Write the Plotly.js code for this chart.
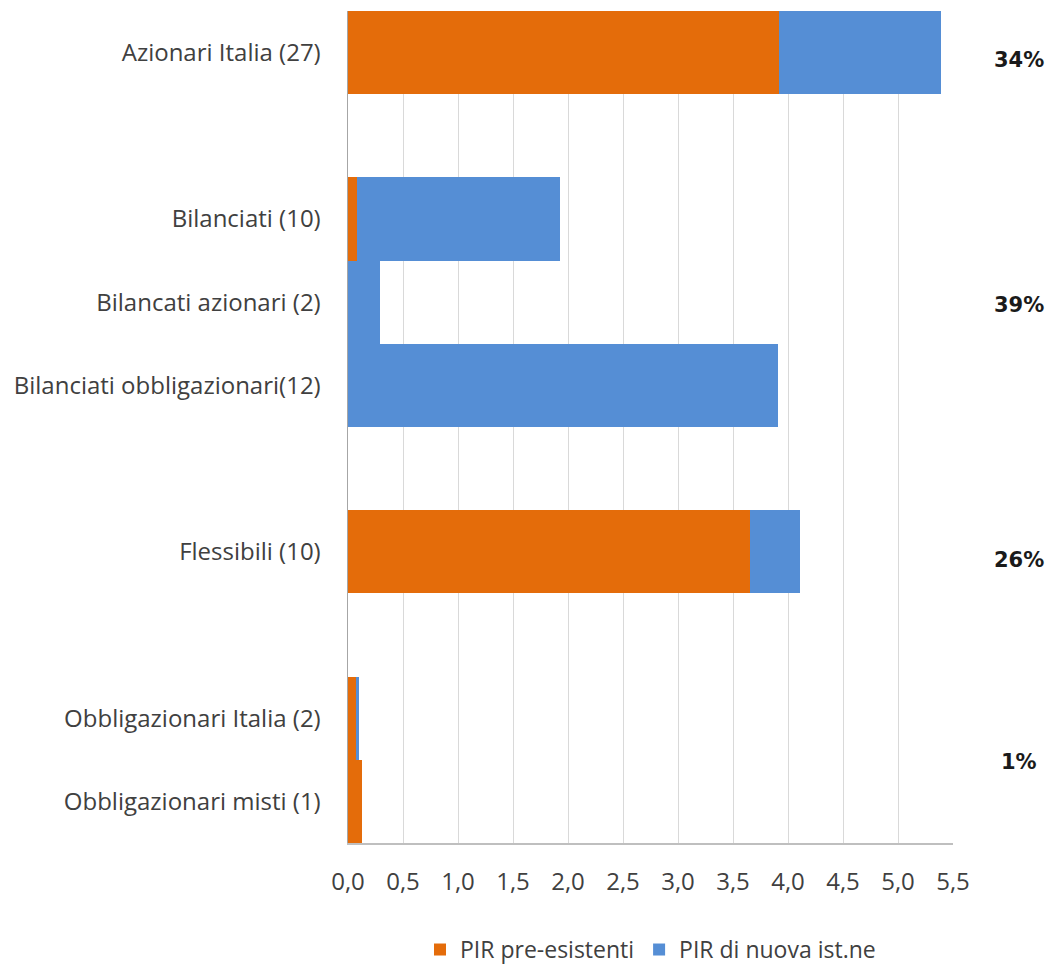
<!DOCTYPE html>
<html>
<head>
<meta charset="utf-8">
<script src="https://cdn.plot.ly/plotly-3.0.1.min.js"></script>
<style>html,body{margin:0;padding:0;background:#fff;}#chart{width:1052px;height:965px;}</style>
</head>
<body>
<div id="chart"></div>
<script>
// Categories (blank strings are spacer rows between groups)
const categories = [
  "Azionari Italia (27)",
  " ",
  "Bilanciati (10)",
  "Bilancati azionari (2)",
  "Bilanciati obbligazionari(12)",
  "  ",
  "Flessibili (10)",
  "   ",
  "Obbligazionari Italia (2)",
  "Obbligazionari misti (1)"
];
const preEsistenti = [3.92, null, 0.08, 0, 0, null, 3.65, null, 0.075, 0.13];
const nuovaIst     = [1.47, null, 1.845, 0.29, 3.91, null, 0.46, null, 0.025, 0];
const seriesNames = ["PIR pre-esistenti", "PIR di nuova ist.ne"];
const groupShares = ["34%", "39%", "26%", "1%"];
const groupAnchor = ["Azionari Italia (27)", "Bilancati azionari (2)", "Flessibili (10)", "Obbligazionari Italia (2)"];
const xTickVals = [0, 0.5, 1, 1.5, 2, 2.5, 3, 3.5, 4, 4.5, 5, 5.5];

const traces = [
  {type: "bar", orientation: "h", name: seriesNames[0], y: categories, x: preEsistenti,
   marker: {color: "#E46C0A"}, hoverinfo: "x+y"},
  {type: "bar", orientation: "h", name: seriesNames[1], y: categories, x: nuovaIst,
   marker: {color: "#558ED5"}, hoverinfo: "x+y"}
];

const annYOffsets = [7, 3, 8, 44];
const annotations = groupShares.map((t, i) => ({
  xref: "paper", yref: "y", x: 1.109, y: groupAnchor[i], text: t, showarrow: false,
  yshift: -annYOffsets[i],
  font: {family: "DejaVu Sans", size: 21, color: "#1a1a1a", weight: "bold"},
  xanchor: "center"
}));

const labelFont = "'Open Sans', 'Noto Sans', sans-serif";

const layout = {
  width: 1052, height: 965,
  margin: {l: 348, r: 99, t: 11, b: 122, autoexpand: false},
  paper_bgcolor: "#fff", plot_bgcolor: "#fff",
  barmode: "stack", bargap: 0,
  separators: ",.",
  showlegend: true,
  legend: {orientation: "h", x: 0.5, xanchor: "center", yref: "container", y: 0.016, yanchor: "middle",
           font: {family: labelFont, size: 23, color: "#404040"},
           traceorder: "normal"},
  font: {family: labelFont, size: 24, color: "#404040"},
  xaxis: {range: [0, 5.5], tickvals: xTickVals, tickformat: ".1f",
          showgrid: true, gridcolor: "#d9d9d9", gridwidth: 1,
          showline: true, linecolor: "#bfbfbf", linewidth: 1.5,
          zeroline: false, ticks: "", ticklabelstandoff: 17,
          tickfont: {size: 24, color: "#404040"}, fixedrange: true},
  yaxis: {type: "category", categoryorder: "array", categoryarray: categories,
          autorange: "reversed", showgrid: false, zeroline: false,
          showline: true, linecolor: "#a6a6a6", linewidth: 1.5,
          ticks: "", ticklabelstandoff: 21,
          tickfont: {size: 24, color: "#404040"}, fixedrange: true},
  annotations: annotations
};

Plotly.newPlot("chart", traces, layout, {displayModeBar: false, staticPlot: true});
</script>
</body>
</html>
